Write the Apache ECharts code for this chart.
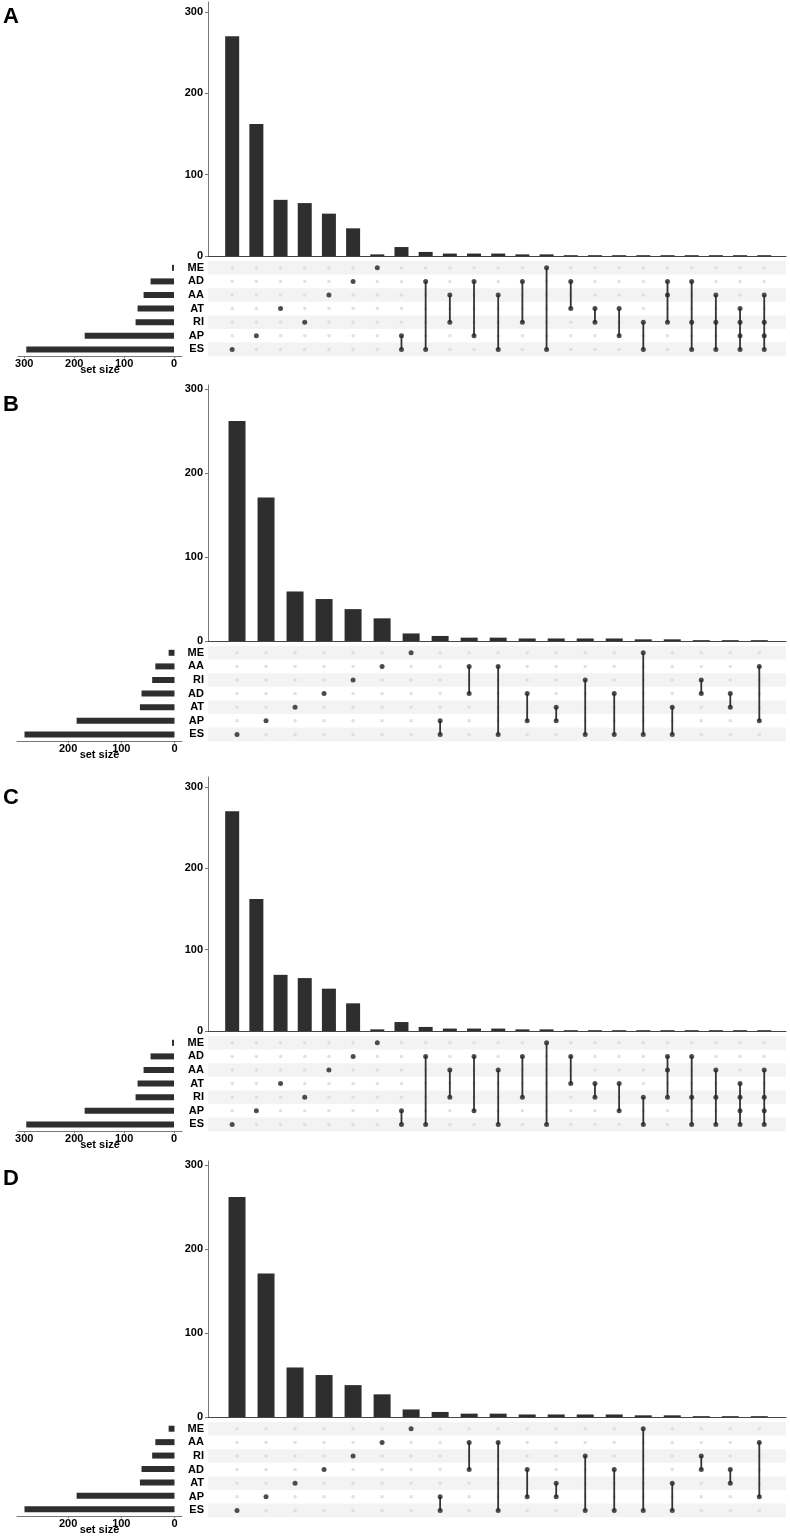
<!DOCTYPE html>
<html><head><meta charset="utf-8">
<script src="https://cdn.jsdelivr.net/npm/echarts@6/dist/echarts.min.js"></script>
<style>html,body{margin:0;padding:0;background:#fff}#c{width:790px;height:1536px}</style>
</head><body><div id="c"></div><script>
const FONT = '"Liberation Sans Narrow","Arial Narrow","Liberation Sans",Arial,sans-serif';

// ---------- Panel A ----------
const setNamesA = ['ME','AD','AA','AT','RI','AP','ES'];
const setSizesA = [4,47,61,73,77,179,296];
const intersectionSetsA = [['ES'],['AP'],['AT'],['RI'],['AA'],['AD'],['ME'],['AP','ES'],['AD','ES'],['AA','RI'],['AD','AP'],['AA','ES'],['AD','RI'],['ME','ES'],['AD','AT'],['AT','RI'],['AT','AP'],['RI','ES'],['AD','AA','RI'],['AD','RI','ES'],['AA','RI','ES'],['AT','RI','AP','ES'],['AA','RI','AP','ES']];
const intersectionSizesA = [270,162,69,65,52,34,2,11,5,3,3,3,2,2,1,1,1,1,1,1,1,1,1];

// ---------- Panel B ----------
const setNamesB = ['ME','AA','RI','AD','AT','AP','ES'];
const setSizesB = [11,36,42,62,65,184,282];
const intersectionSetsB = [['ES'],['AP'],['AT'],['AD'],['RI'],['AA'],['ME'],['AP','ES'],['AA','AD'],['AA','ES'],['AD','AP'],['AT','AP'],['RI','ES'],['AD','ES'],['ME','ES'],['AT','ES'],['RI','AD'],['AD','AT'],['AA','AP']];
const intersectionSizesB = [262,171,59,50,38,27,9,6,4,4,3,3,3,3,2,2,1,1,1];

// ---------- Panel C ----------
const setNamesC = ['ME','AD','AA','AT','RI','AP','ES'];
const setSizesC = [4,47,61,73,77,179,296];
const intersectionSetsC = [['ES'],['AP'],['AT'],['RI'],['AA'],['AD'],['ME'],['AP','ES'],['AD','ES'],['AA','RI'],['AD','AP'],['AA','ES'],['AD','RI'],['ME','ES'],['AD','AT'],['AT','RI'],['AT','AP'],['RI','ES'],['AD','AA','RI'],['AD','RI','ES'],['AA','RI','ES'],['AT','RI','AP','ES'],['AA','RI','AP','ES']];
const intersectionSizesC = [270,162,69,65,52,34,2,11,5,3,3,3,2,2,1,1,1,1,1,1,1,1,1];

// ---------- Panel D ----------
const setNamesD = ['ME','AA','RI','AD','AT','AP','ES'];
const setSizesD = [11,36,42,62,65,184,282];
const intersectionSetsD = [['ES'],['AP'],['AT'],['AD'],['RI'],['AA'],['ME'],['AP','ES'],['AA','AD'],['AA','ES'],['AD','AP'],['AT','AP'],['RI','ES'],['AD','ES'],['ME','ES'],['AT','ES'],['RI','AD'],['AD','AT'],['AA','AP']];
const intersectionSizesD = [262,171,59,50,38,27,9,6,4,4,3,3,3,3,2,2,1,1,1];

// tick labels
const intersectionTicks = [0,100,200,300];
const setSizeTicksAC = [0,100,200,300];
const setSizeTicksBD = [0,100,200];

const panels = [
  {letter:'A', letterTop:6, names:setNamesA, sizes:setSizesA, inter:intersectionSetsA, counts:intersectionSizesA,
   barTop:2, barBottom:256, barMax:312, matTop:261, colMax:23.9, barW:14, ssMin:-16, ssMax:312.6, ssLeft:18, ssWidth:164, ssTicks:setSizeTicksAC},
  {letter:'B', letterTop:394, names:setNamesB, sizes:setSizesB, inter:intersectionSetsB, counts:intersectionSizesB,
   barTop:385, barBottom:641, barMax:305, matTop:646, colMax:19.92, barW:17, ssMin:-14.1, ssMax:296.1, ssLeft:17, ssWidth:165, ssTicks:setSizeTicksBD},
  {letter:'C', letterTop:787, names:setNamesC, sizes:setSizesC, inter:intersectionSetsC, counts:intersectionSizesC,
   barTop:777, barBottom:1031, barMax:312, matTop:1036, colMax:23.9, barW:14, ssMin:-16, ssMax:312.6, ssLeft:18, ssWidth:164, ssTicks:setSizeTicksAC},
  {letter:'D', letterTop:1168, names:setNamesD, sizes:setSizesD, inter:intersectionSetsD, counts:intersectionSizesD,
   barTop:1161, barBottom:1417, barMax:305, matTop:1422, colMax:19.92, barW:17, ssMin:-14.1, ssMax:296.1, ssLeft:17, ssWidth:165, ssTicks:setSizeTicksBD}
];

const ROW_H = 13.6;
const BAR_COLOR = '#2e2e2e';
const labelStyle = {fontFamily:FONT, fontWeight:'bold', fontSize:11, color:'#000'};

const grid=[], xAxis=[], yAxis=[], series=[], graphic=[];

panels.forEach(p => {
  const gi = grid.length, xi = xAxis.length, yi = yAxis.length;
  const matH = ROW_H * p.names.length;
  grid.push({left:208, width:578, top:p.barTop, height:p.barBottom - p.barTop});
  grid.push({left:208, width:578, top:p.matTop, height:matH});
  grid.push({left:p.ssLeft, width:p.ssWidth, top:p.matTop, height:matH});

  // intersection bar chart axes
  xAxis.push({gridIndex:gi, type:'value', min:0, max:p.colMax,
    axisLine:{show:true, onZero:false, lineStyle:{color:'#444', width:1}},
    axisTick:{show:false}, axisLabel:{show:false}, splitLine:{show:false}});
  yAxis.push({gridIndex:gi, type:'value', min:0, max:p.barMax,
    axisLine:{show:true, lineStyle:{color:'#777', width:1}},
    axisTick:{show:true, length:3, customValues:intersectionTicks, lineStyle:{color:'#777'}},
    axisLabel:Object.assign({customValues:intersectionTicks, margin:5}, labelStyle),
    splitLine:{show:false}});
  // matrix axes
  xAxis.push({gridIndex:gi+1, type:'value', min:0, max:p.colMax, show:false});
  yAxis.push({gridIndex:gi+1, type:'category', data:p.names, inverse:true,
    axisLine:{show:false}, axisTick:{show:false},
    axisLabel:Object.assign({margin:4, interval:0}, labelStyle), splitLine:{show:false}});
  // set size axes
  xAxis.push({gridIndex:gi+2, type:'value', inverse:true, min:p.ssMin, max:p.ssMax, position:'bottom',
    axisLine:{show:true, onZero:false, lineStyle:{color:'#777', width:1}},
    axisTick:{show:true, length:2, customValues:p.ssTicks, lineStyle:{color:'#777'}},
    axisLabel:Object.assign({customValues:p.ssTicks, margin:2}, labelStyle),
    splitLine:{show:false},
    name:'set size', nameLocation:'middle', nameGap:8, nameMoveOverlap:false, nameTextStyle:labelStyle});
  yAxis.push({gridIndex:gi+2, type:'category', data:p.names, inverse:true, show:false});

  // intersection bars
  series.push({type:'bar', xAxisIndex:xi, yAxisIndex:yi, barWidth:p.barW,
    data:p.counts.map((v,i)=>[i+1, v]), itemStyle:{color:BAR_COLOR}, silent:true});

  // matrix stripes
  series.push({type:'custom', xAxisIndex:xi+1, yAxisIndex:yi+1, silent:true, z:0,
    data:p.names.map((n,i)=>[0,i]).filter(d=>d[1]%2===0),
    encode:{x:0, y:1},
    renderItem:(params, api)=>{
      const c = api.coord([0, api.value(1)]);
      const h = api.size([0,1])[1];
      const cs = params.coordSys;
      return {type:'rect', shape:{x:cs.x, y:c[1]-h/2, width:cs.width, height:h}, style:{fill:'#f3f3f3'}};
    }});

  // empty dots
  const allCells = [];
  p.counts.forEach((v,i)=>p.names.forEach((n,r)=>allCells.push([i+1, r])));
  series.push({type:'scatter', xAxisIndex:xi+1, yAxisIndex:yi+1, silent:true, z:2,
    symbolSize:3.5, itemStyle:{color:'#dadada'}, data:allCells});

  // connectors
  const conn = [];
  p.inter.forEach((sets,i)=>{
    if (sets.length>1) {
      const rows = sets.map(s=>p.names.indexOf(s));
      conn.push([i+1, Math.min(...rows), Math.max(...rows)]);
    }
  });
  series.push({type:'custom', xAxisIndex:xi+1, yAxisIndex:yi+1, silent:true, z:3,
    data:conn, encode:{x:0, y:1},
    renderItem:(params, api)=>{
      const a = api.coord([api.value(0), api.value(1)]);
      const b = api.coord([api.value(0), api.value(2)]);
      return {type:'line', shape:{x1:a[0], y1:a[1], x2:b[0], y2:b[1]}, style:{stroke:'#333', lineWidth:1.8}};
    }});

  // filled dots
  const filled = [];
  p.inter.forEach((sets,i)=>sets.forEach(s=>filled.push([i+1, p.names.indexOf(s)])));
  series.push({type:'scatter', xAxisIndex:xi+1, yAxisIndex:yi+1, silent:true, z:4,
    symbolSize:5, itemStyle:{color:'#262626'}, data:filled});

  // set size bars
  series.push({type:'bar', xAxisIndex:xi+2, yAxisIndex:yi+2, barWidth:6,
    data:p.sizes, itemStyle:{color:BAR_COLOR}, silent:true});

  graphic.push({type:'text', left:3, top:p.letterTop,
    style:{text:p.letter, font:'bold 22px "Liberation Sans", Arial, sans-serif', fill:'#000'}});
});

const chart = echarts.init(document.getElementById('c'), null, {renderer:'canvas'});
chart.setOption({animation:false, backgroundColor:'#fff', grid, xAxis, yAxis, series, graphic});
</script></body></html>
